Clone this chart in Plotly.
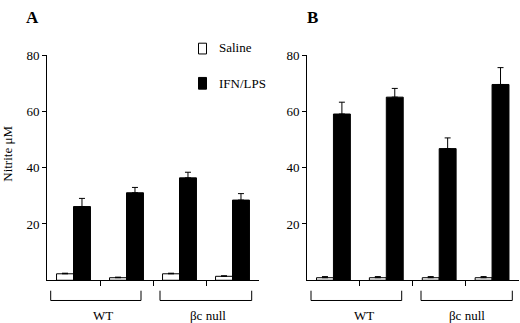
import plotly.graph_objects as go

# ---- data ----
groups = [1, 2, 3, 4]
group_labels = ["WT", "βc null"]
tick_vals_y = [20, 40, 60, 80]

a_saline = [2.3, 0.9, 2.3, 1.4]
a_saline_err = [0.2, 0.2, 0.2, 0.2]
a_ifn = [26.2, 31.1, 36.4, 28.5]
a_ifn_err = [2.9, 1.9, 2.0, 2.3]

b_saline = [0.9, 0.9, 0.9, 0.9]
b_saline_err = [0.4, 0.4, 0.4, 0.4]
b_ifn = [59.1, 65.1, 46.8, 69.6]
b_ifn_err = [4.2, 3.1, 3.8, 6.0]

W, H = 520, 323
FONT = "Liberation Serif, Times New Roman, serif"


def px(x):
    return x / W


def py(y):
    return 1 - y / H


def err(arr):
    return dict(type="data", array=arr, arrayminus=[0] * len(arr), symmetric=False,
                color="black", thickness=1, width=3)


fig = go.Figure()
for xa, ya, sal, sal_e, ifn, ifn_e in [
    ("x", "y", a_saline, a_saline_err, a_ifn, a_ifn_err),
    ("x2", "y2", b_saline, b_saline_err, b_ifn, b_ifn_err),
]:
    fig.add_trace(go.Bar(x=groups, y=sal, xaxis=xa, yaxis=ya, name="Saline",
                         marker=dict(color="white", line=dict(color="black", width=1)),
                         error_y=err(sal_e), showlegend=False))
    fig.add_trace(go.Bar(x=groups, y=ifn, xaxis=xa, yaxis=ya, name="IFN/LPS",
                         marker=dict(color="black", line=dict(color="black", width=1)),
                         error_y=err(ifn_e), showlegend=False))

xax = dict(range=[0.5, 4.5], showline=True, linecolor="black", linewidth=1,
           tickvals=[1.5, 2.5, 3.5], ticks="outside", ticklen=5, tickcolor="black",
           showticklabels=False, showgrid=False, zeroline=False, fixedrange=True)
yax = dict(range=[0, 80], showline=True, linecolor="black", linewidth=1,
           tickvals=tick_vals_y, ticks="outside", ticklen=4, tickcolor="black",
           showgrid=False, zeroline=False,
           tickfont=dict(family=FONT, size=13, color="black"))

y_dom = [py(279.3), py(49.3)]
fig.update_layout(
    width=W, height=H,
    margin=dict(l=0, r=0, t=0, b=0),
    paper_bgcolor="white", plot_bgcolor="white",
    barmode="group", bargap=0.36, bargroupgap=0,
    xaxis=dict(xax, domain=[px(47), px(259)]),
    xaxis2=dict(xax, domain=[px(307), px(518.5)]),
    yaxis=dict(yax, domain=y_dom, anchor="x"),
    yaxis2=dict(yax, domain=y_dom, anchor="x2"),
    font=dict(family=FONT, color="black"),
)

shapes = []
annotations = []
# brackets + group labels
brackets = [(50.7, 141.0, 102.5, group_labels[0]), (160.0, 251.7, 207.5, group_labels[1]),
            (311.0, 401.7, 364.0, group_labels[0]), (421.0, 512.3, 467.0, group_labels[1])]
for x0, x1, xc, lab in brackets:
    shapes.append(dict(type="path", xref="paper", yref="paper",
                       path=f"M {px(x0)},{py(290)} L {px(x0)},{py(300)} L {px(x1)},{py(300)} L {px(x1)},{py(290)}",
                       line=dict(color="black", width=1)))
    annotations.append(dict(text=lab, x=px(xc), y=py(315), xref="paper", yref="paper",
                            showarrow=False, xanchor="center", yanchor="middle",
                            font=dict(family=FONT, size=13, color="black")))

# legend
shapes.append(dict(type="rect", xref="paper", yref="paper", x0=px(198.5), x1=px(206.5),
                   y0=py(48), y1=py(37), line=dict(color="black", width=1), fillcolor="white"))
shapes.append(dict(type="rect", xref="paper", yref="paper", x0=px(198.5), x1=px(206.5),
                   y0=py(84), y1=py(72), line=dict(color="black", width=1), fillcolor="black"))
annotations.append(dict(text="Saline", x=px(216.5), y=py(41), xref="paper", yref="paper",
                        showarrow=False, xanchor="left", yanchor="middle",
                        font=dict(family=FONT, size=13, color="black")))
annotations.append(dict(text="IFN/LPS", x=px(216.5), y=py(78), xref="paper", yref="paper",
                        showarrow=False, xanchor="left", yanchor="middle",
                        font=dict(family=FONT, size=13, color="black")))

# y title
annotations.append(dict(text="Nitrite μM", x=px(8), y=py(150), xref="paper", yref="paper",
                        showarrow=False, textangle=-90, xanchor="center", yanchor="middle",
                        font=dict(family=FONT, size=13, color="black")))
# panel labels
annotations.append(dict(text="<b>A</b>", x=px(32), y=py(11), xref="paper", yref="paper",
                        showarrow=False, xanchor="center", yanchor="middle",
                        font=dict(family=FONT, size=17, color="black")))
annotations.append(dict(text="<b>B</b>", x=px(312), y=py(11), xref="paper", yref="paper",
                        showarrow=False, xanchor="center", yanchor="middle",
                        font=dict(family=FONT, size=17, color="black")))

fig.update_layout(shapes=shapes, annotations=annotations)
fig.write_html("out.html", config={"displayModeBar": False},
               post_script="document.body.style.margin='0';document.body.style.overflow='hidden';")
